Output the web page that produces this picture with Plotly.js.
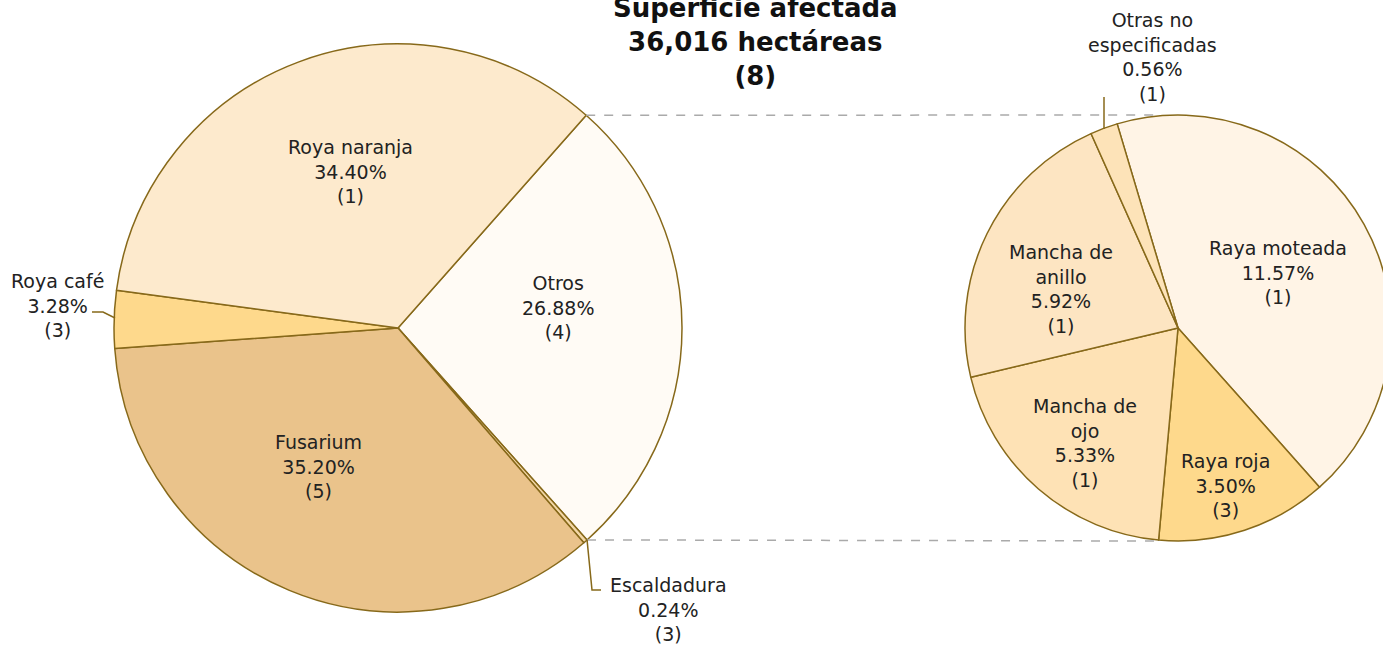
<!DOCTYPE html>
<html>
<head>
<meta charset="utf-8">
<script src="https://cdn.plot.ly/plotly-3.0.1.min.js"></script>
<style>
html,body{margin:0;padding:0;overflow:hidden;background:#fff;}
#chart{width:1400px;height:646px;}
</style>
</head>
<body>
<div id="chart"></div>
<script>
// ---- data ----
var mainLabels = ["Otros", "Escaldadura", "Fusarium", "Roya café", "Roya naranja"];
var mainValues = [26.88, 0.24, 35.20, 3.28, 34.40];
var mainCounts = [4, 3, 5, 3, 1];
var subLabels = ["Raya moteada", "Raya roja", "Mancha de ojo", "Mancha de anillo", "Otras no especificadas"];
var subValues = [11.57, 3.50, 5.33, 5.92, 0.56];
var subCounts = [1, 3, 1, 1, 1];
var titleLines = ["Superficie afectada", "36,016 hectáreas", "(8)"];

// ---- styling ----
var W = 1400, H = 646;
function px(x){ return x / W; }
function py(y){ return 1 - y / H; }
var mainColors = ["#FFFBF5", "#F3D7A6", "#EAC38B", "#FED98C", "#FDEACD"];
var subColors = ["#FFF4E6", "#FED98C", "#FEE2B5", "#FDE5C2", "#FDE3B8"];
var edge = "#87691A";
var fontFam = "'DejaVu Sans', 'Open Sans', sans-serif";

var L = {cx: 398, cy: 328, r: 284, rot: 41.5};
var R = {cx: 1178, cy: 328, r: 213, rot: 343.4};

var traces = [
  {
    type: "pie", labels: mainLabels, values: mainValues, sort: false,
    direction: "clockwise", rotation: L.rot, textinfo: "none", hoverinfo: "label+value",
    marker: {colors: mainColors, line: {color: edge, width: 1.5}},
    domain: {x: [px(L.cx - L.r), px(L.cx + L.r)], y: [py(L.cy + L.r), py(L.cy - L.r)]},
    showlegend: false
  },
  {
    type: "pie", labels: subLabels, values: subValues, sort: false,
    direction: "clockwise", rotation: R.rot, textinfo: "none", hoverinfo: "label+value",
    marker: {colors: subColors, line: {color: edge, width: 1.5}},
    domain: {x: [px(R.cx - R.r), px(R.cx + R.r)], y: [py(R.cy + R.r), py(R.cy - R.r)]},
    showlegend: false
  }
];

function lbl(name, v, c){ return name + "<br>" + v.toFixed(2) + "%<br>(" + c + ")"; }

// label anchor positions (pixel)
var mainPos = [[558, 308], [668, 609], [318, 466], [58, 305], [350, 172]];
var subPos = [[1278, 272], [1225, 485], [1085, 443], [1061, 289], [1152, 57]];
var subNames = ["Raya moteada", "Raya roja", "Mancha de<br>ojo", "Mancha de<br>anillo", "Otras no<br>especificadas"];

var annotations = [];
mainLabels.forEach(function(n, i){
  annotations.push({x: px(mainPos[i][0]), y: py(mainPos[i][1]), xref: "paper", yref: "paper",
    text: lbl(n, mainValues[i], mainCounts[i]), showarrow: false, xanchor: "center", yanchor: "middle",
    font: {family: fontFam, size: 19, color: "#222"}});
});
subLabels.forEach(function(n, i){
  annotations.push({x: px(subPos[i][0]), y: py(subPos[i][1]), xref: "paper", yref: "paper",
    text: lbl(subNames[i], subValues[i], subCounts[i]), showarrow: false, xanchor: "center", yanchor: "middle",
    font: {family: fontFam, size: 19, color: "#222"}});
});
annotations.push({x: px(755), y: py(42), xref: "paper", yref: "paper", text: "<b>" + titleLines.join("<br>") + "</b>",
  showarrow: false, xanchor: "center", yanchor: "middle",
  font: {family: fontFam, size: 26, color: "#111"}});

// connector geometry from the Otros slice edges
var a1 = L.rot * Math.PI / 180;
var a2 = (L.rot + mainValues[0] * 3.6) * Math.PI / 180;
var p1 = [L.cx + L.r * Math.sin(a1), L.cy - L.r * Math.cos(a1)];
var p2 = [L.cx + L.r * Math.sin(a2), L.cy - L.r * Math.cos(a2)];

var shapes = [
  {type: "line", xref: "paper", yref: "paper", x0: px(p1[0]), y0: py(p1[1]), x1: px(1160), y1: py(115),
    line: {color: "#AAAAAA", width: 1.5, dash: "dash"}},
  {type: "line", xref: "paper", yref: "paper", x0: px(p2[0]), y0: py(p2[1]), x1: px(1158), y1: py(541),
    line: {color: "#AAAAAA", width: 1.5, dash: "dash"}},
  {type: "path", xref: "paper", yref: "paper",
    path: "M" + px(115) + "," + py(318) + " L" + px(103) + "," + py(312) + " L" + px(92) + "," + py(312),
    line: {color: edge, width: 1.5}},
  {type: "path", xref: "paper", yref: "paper",
    path: "M" + px(p2[0]) + "," + py(p2[1]) + " L" + px(592) + "," + py(590) + " L" + px(601) + "," + py(590),
    line: {color: edge, width: 1.5}},
  {type: "line", xref: "paper", yref: "paper", x0: px(1104), y0: py(97), x1: px(1104), y1: py(129),
    line: {color: edge, width: 1.5}}
];

var layout = {
  width: W, height: H,
  margin: {l: 0, r: 0, t: 0, b: 0},
  paper_bgcolor: "#ffffff",
  annotations: annotations,
  shapes: shapes,
  showlegend: false
};
Plotly.newPlot("chart", traces, layout, {displayModeBar: false, staticPlot: true});
</script>
</body>
</html>
